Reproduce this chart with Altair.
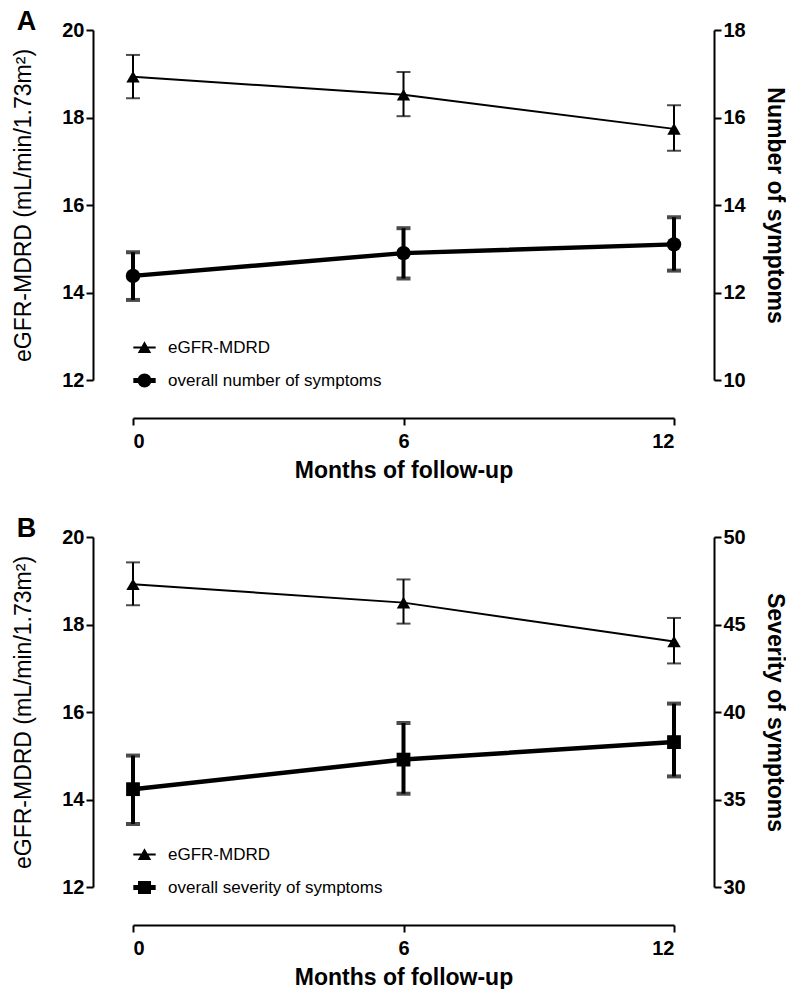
import altair as alt
import pandas as pd

FONT = "Liberation Sans"

months = [0, 6, 12]

# Panel A
a_egfr_mean = [18.93, 18.52, 17.74]
a_egfr_lo = [18.44, 18.03, 17.24]
a_egfr_hi = [19.43, 19.04, 18.28]
a_sym_mean = [12.38, 12.90, 13.10]
a_sym_lo = [11.83, 12.32, 12.50]
a_sym_hi = [12.92, 13.47, 13.72]

# Panel B
b_egfr_mean = [18.92, 18.50, 17.61]
b_egfr_lo = [18.44, 18.02, 17.11]
b_egfr_hi = [19.42, 19.03, 18.15]
b_sev_mean = [35.59, 37.28, 38.28]
b_sev_lo = [33.60, 35.33, 36.32]
b_sev_hi = [37.51, 39.37, 40.48]

left_title = "eGFR-MDRD (mL/min/1.73m²)"
x_title = "Months of follow-up"

TRI_PATH = "M-1,-0.1H1V0.1H-1Z M-0.6,0.5L0,-0.55L0.6,0.5Z"
CIRC_PATH = "M-1,-0.22H1V0.22H-1Z M0.62,0A0.62,0.62 0 1,1 -0.62,0A0.62,0.62 0 1,1 0.62,0Z"
SQ_PATH = "M-1,-0.22H1V0.22H-1Z M-0.58,-0.58H0.58V0.58H-0.58Z"

W, H = 541, 350


def xenc():
    return alt.X(
        "month:Q",
        scale=alt.Scale(domain=[0, 12], nice=False, zero=False),
        axis=alt.Axis(values=[0, 6, 12], offset=38, title=x_title, format="d",
                      titlePadding=8, labelPadding=6),
    )


def group(df, domain, ticks, orient, title, offset, thick, shape, size, titlePad):
    ax = alt.Axis(values=ticks, orient=orient, offset=offset, title=title,
                  titlePadding=titlePad,
                  titleFontWeight="normal" if orient == "left" else "bold")
    sc = alt.Scale(domain=domain, nice=False, zero=False)

    def y(f):
        return alt.Y(f + ":Q", scale=sc, axis=ax)

    base = alt.Chart(df)
    lw = 4.5 if thick else 2
    ew = 4 if thick else 2
    line = base.mark_line(color="black", strokeWidth=lw).encode(x=xenc(), y=y("mean"))
    err = base.mark_rule(color="black", strokeWidth=ew).encode(
        x=xenc(), y=y("lo"), y2="hi:Q")
    cap_lo = base.mark_tick(color="black", orient="horizontal", size=14, thickness=ew).encode(
        x=xenc(), y=y("lo"))
    cap_hi = base.mark_tick(color="black", orient="horizontal", size=14, thickness=ew).encode(
        x=xenc(), y=y("hi"))
    pts = base.mark_point(filled=True, color="black", opacity=1, shape=shape, size=size).encode(
        x=xenc(), y=y("mean"))
    return [line, err, cap_lo, cap_hi, pts]


def panel(letter, e_mean, e_lo, e_hi, s_mean, s_lo, s_hi, s_domain, s_ticks,
          s_title, s_shape, s_size, s_name, s_path):
    df_e = pd.DataFrame({"month": months, "mean": e_mean, "lo": e_lo, "hi": e_hi})
    df_s = pd.DataFrame({"month": months, "mean": s_mean, "lo": s_lo, "hi": s_hi})

    legend_df = pd.DataFrame({"series": ["eGFR-MDRD", s_name], "month": [0, 0]})
    legend_layer = alt.Chart(legend_df).mark_point(
        filled=True, color="black", opacity=1, size=500
    ).encode(
        shape=alt.Shape(
            "series:N",
            scale=alt.Scale(domain=["eGFR-MDRD", s_name], range=[TRI_PATH, s_path]),
            legend=alt.Legend(
                orient="none", legendX=0, legendY=306, title=None,
                labelFont=FONT, labelFontSize=17, labelFontWeight="normal",
                labelColor="black", symbolSize=500, symbolFillColor="black",
                symbolStrokeWidth=0, symbolOpacity=1, rowPadding=13, labelOffset=12,
                labelLimit=0,
            ),
        )
    ).transform_filter("false")

    left = alt.layer(
        *group(df_e, [12, 20], [12, 14, 16, 18, 20], "left", left_title, 40, False,
               "triangle-up", 180, 26),
        legend_layer,
    )
    right = alt.layer(
        *group(df_s, s_domain, s_ticks, "right", s_title, 40, True, s_shape, s_size, 17)
    )
    return alt.layer(left, right).resolve_scale(y="independent").properties(
        width=W, height=H,
        title=alt.TitleParams(text=letter, anchor="start", frame="bounds", fontSize=27,
                              font=FONT, fontWeight="bold", color="black", offset=-16, dx=4),
    )


pA = panel("A", a_egfr_mean, a_egfr_lo, a_egfr_hi, a_sym_mean, a_sym_lo, a_sym_hi,
           [10, 18], [10, 12, 14, 16, 18], "Number of symptoms", "circle", 210,
           "overall number of symptoms", CIRC_PATH)
pB = panel("B", b_egfr_mean, b_egfr_lo, b_egfr_hi, b_sev_mean, b_sev_lo, b_sev_hi,
           [30, 50], [30, 35, 40, 45, 50], "Severity of symptoms", "square", 190,
           "overall severity of symptoms", SQ_PATH)

chart = alt.vconcat(pA, pB, spacing=33).resolve_scale(
    shape="independent"
).resolve_legend(shape="independent").properties(
    padding={"left": 4, "top": 0, "right": 0, "bottom": 0}
).configure_view(
    stroke=None
).configure_axis(
    domainColor="black", domainWidth=2, tickColor="black", tickWidth=2, tickSize=7,
    labelFont=FONT, labelFontSize=20, labelFontWeight="bold", labelColor="black",
    labelPadding=2, titleFont=FONT, titleFontSize=23, titleColor="black", grid=False,
).configure_axisX(titleFontWeight="bold", titleFontSize=23)

chart.save("out.html", embed_options={"renderer": "svg", "actions": False})
